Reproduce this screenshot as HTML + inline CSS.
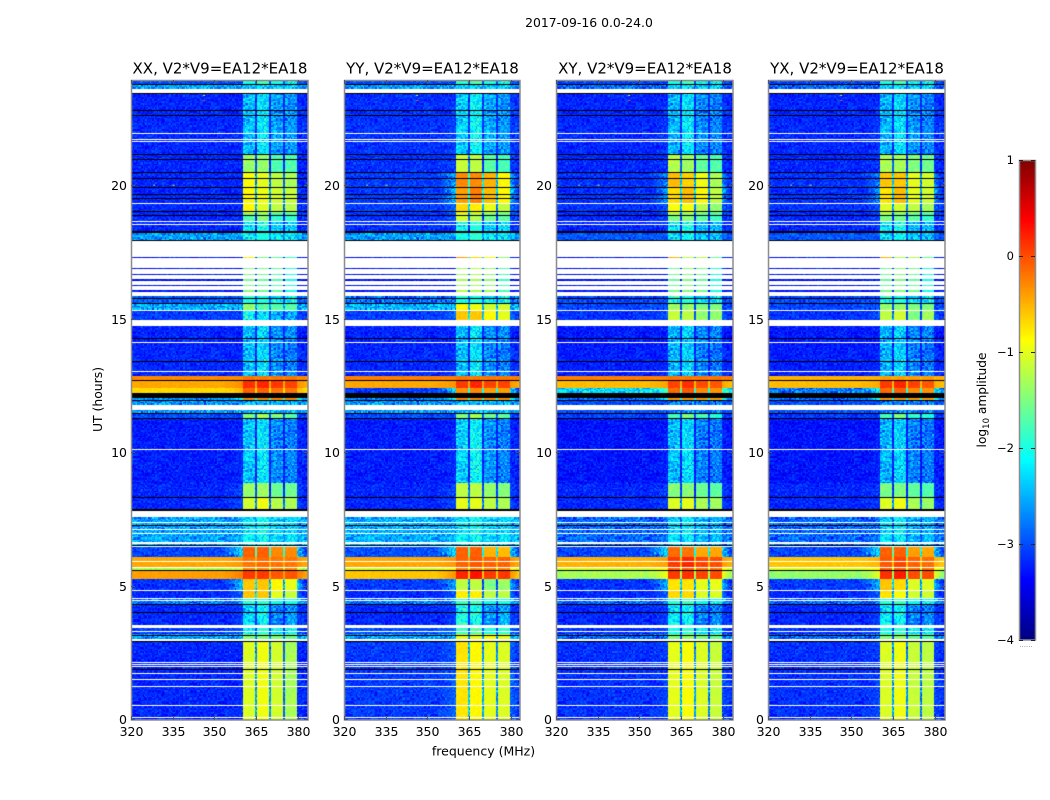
<!DOCTYPE html>
<html lang="en">
<head>
<meta charset="utf-8">
<title>2017-09-16 0.0-24.0 dynamic spectra</title>
<style>
html,body{margin:0;padding:0;background:#fff;}
#figure{position:relative;width:1050px;height:800px;overflow:hidden;background:#fff;font-family:"DejaVu Sans","Liberation Sans",sans-serif;}
canvas{position:absolute;display:block;}
#overlay{position:absolute;left:0;top:0;}
text{font-family:"DejaVu Sans","Liberation Sans",sans-serif;fill:#000;}
</style>
</head>
<body>
<div id="figure">
  <canvas id="heat0" width="177" height="640" style="left:131px;top:80px"></canvas>
  <canvas id="heat1" width="176" height="640" style="left:344px;top:80px"></canvas>
  <canvas id="heat2" width="177" height="640" style="left:556px;top:80px"></canvas>
  <canvas id="heat3" width="177" height="640" style="left:768px;top:80px"></canvas>
  <canvas id="cbar" width="16" height="480" style="left:1019px;top:160px"></canvas>
  <svg id="overlay" width="1050" height="800" viewBox="0 0 1050 800" xmlns="http://www.w3.org/2000/svg">
    <text x="589" y="27" text-anchor="middle" font-size="12.4">2017-09-16 0.0-24.0</text>
    <text x="483.5" y="755.5" text-anchor="middle" font-size="12.5">frequency (MHz)</text>
    <text transform="translate(102,399.5) rotate(-90)" text-anchor="middle" font-size="12.4">UT (hours)</text>
    <text transform="translate(986,400) rotate(-90)" text-anchor="middle" font-size="12.2">log<tspan font-size="8.5" dy="3">10</tspan><tspan dy="-3"> amplitude</tspan></text>
    <text x="1026" y="647" text-anchor="middle" font-size="7" style="fill:#888">......</text>
  </svg>
</div>
<script>
// Chart data.
const panelTitles = ["XX, V2*V9=EA12*EA18", "YY, V2*V9=EA12*EA18", "XY, V2*V9=EA12*EA18", "YX, V2*V9=EA12*EA18"];
const freqTicks = [320, 335, 350, 365, 380];
const utTicks = [0, 5, 10, 15, 20];
const cbarTicks = [1, 0, -1, -2, -3, -4];
const cbarLimits = [-4, 1];
const freqLimits = [320, 383.8];
const utLimits = [0, 23.95];
// Sub-band edges in MHz: start and stop of each of the four bright bands
const bandStartMHz = [360.5, 365.5, 370.4, 375.6];
const bandStopMHz = [364.8, 369.8, 374.9, 379.7];
const wingStartMHz = 353;
// Lower UT edge of each time region
const regionStartUT = [0, 2.94, 3.2, 3.54, 4.33, 4.51, 4.85, 5.28, 5.56, 5.71, 6.07, 6.46, 7.81, 8.29, 8.86, 11.29, 11.44, 11.93, 12.21, 12.42, 12.68, 12.88, 14.96, 15.30, 15.56, 15.86, 17.28, 17.92, 18.22, 18.63, 18.97, 19.31, 19.91, 20.47, 21.14, 23.61, 23.76];
// Each row: log10 amplitude of [background, wing near the band, band 1, band 2, band 3, band 4]
const levelsXX = [
[-3.2,-3.2,-1.05,-0.95,-1.1,-1.3],[-2.6,-2.5,-1.5,-1.5,-1.5,-1.6],[-3.1,-3.0,-2.1,-1.9,-2.2,-2.1],[-3.2,-3.1,-2.35,-2.15,-2.75,-2.65],
[-2.8,-2.6,-1.9,-1.9,-2.0,-2.0],[-3.2,-2.9,-0.6,-0.6,-1.0,-1.15],[-3.15,-2.3,-0.6,-0.6,-0.85,-1.0],[-0.4,-0.2,0.1,0.1,-0.05,-0.05],
[-1.3,-1.1,-0.3,-0.3,-0.3,-0.3],[-0.45,-0.35,-0.2,-0.15,-0.2,-0.2],[-3.05,-2.2,-0.1,-0.1,-0.3,-0.3],[-2.6,-2.6,-2.2,-2.1,-2.3,-2.3],
[-3.2,-3.0,-1.1,-0.95,-1.25,-1.3],[-3.2,-3.0,-1.4,-1.35,-1.6,-1.6],[-3.25,-3.2,-2.4,-2.25,-2.7,-2.75],[-3.0,-3.0,-1.5,-1.3,-1.5,-1.7],
[-2.65,-2.65,-2.5,-2.4,-2.5,-2.5],[-2.7,-2.0,-0.3,-0.3,-0.3,-0.3],[-0.7,-0.5,-0.1,-0.1,-0.2,-0.2],[-0.45,-0.3,0.15,0.2,0.1,0.05],
[-0.3,-0.3,-0.2,-0.2,-0.2,-0.2],[-3.2,-3.2,-2.45,-2.3,-2.7,-2.75],[-3.1,-3.1,-2.1,-2.25,-2.5,-2.5],[-2.55,-2.55,-1.4,-1.7,-1.7,-1.7],
[-2.95,-2.95,-2.0,-2.0,-2.2,-2.2],[-3.3,-3.3,-1.5,-1.6,-1.7,-2.0],[-3.3,-3.3,-0.8,-1.6,-1.6,-1.9],[-2.6,-2.6,-2.1,-2.0,-2.2,-2.2],
[-3.2,-3.2,-2.2,-2.1,-2.4,-2.4],[-3.2,-3.2,-1.7,-1.5,-1.9,-1.9],[-3.2,-3.2,-0.85,-1.05,-1.2,-1.25],[-3.2,-3.2,-0.85,-0.95,-1.1,-1.15],
[-3.2,-3.2,-0.9,-1.0,-1.2,-1.3],[-3.2,-3.2,-1.4,-1.4,-1.75,-1.75],[-3.2,-3.2,-2.45,-2.25,-2.6,-2.65],[-2.55,-2.5,-2.4,-2.3,-2.4,-2.4],
[-3.0,-3.0,-2.0,-1.8,-2.0,-2.2]];
const levelsYY = [
[-3.1,-2.9,-0.75,-0.85,-1.0,-1.05],[-2.6,-2.4,-1.0,-1.0,-0.9,-1.0],[-3.0,-2.9,-1.8,-1.7,-2.0,-1.9],[-3.2,-3.1,-2.05,-2.05,-2.65,-2.55],
[-2.8,-2.6,-1.8,-1.8,-2.0,-2.0],[-3.2,-2.9,-0.8,-0.8,-1.2,-1.2],[-3.1,-2.5,-1.2,-1.2,-1.5,-1.4],[-0.6,-0.3,0.2,0.3,0.1,0.1],
[-1.1,-0.8,-0.3,-0.3,-0.3,-0.3],[-0.45,-0.35,-0.1,-0.05,-0.1,-0.1],[-3.0,-2.2,-0.1,-0.1,-0.5,-0.55],[-2.55,-2.55,-2.2,-2.1,-2.3,-2.3],
[-3.2,-3.0,-1.0,-1.0,-1.2,-1.3],[-3.2,-3.0,-1.2,-1.2,-1.4,-1.5],[-3.25,-3.2,-2.35,-2.15,-2.65,-2.75],[-3.0,-3.0,-1.5,-1.3,-1.6,-1.7],
[-2.65,-2.65,-2.5,-2.4,-2.5,-2.5],[-2.8,-2.0,-0.3,-0.3,-0.3,-0.3],[-3.1,-2.1,-0.35,-0.3,-0.4,-0.4],[-0.45,-0.35,0.1,0.2,0.05,0.05],
[-0.25,-0.25,-0.2,-0.2,-0.2,-0.2],[-3.2,-3.15,-2.45,-2.25,-2.7,-2.75],[-3.1,-2.9,-0.6,-0.6,-0.85,-1.0],[-2.5,-2.5,-0.85,-0.95,-1.1,-1.1],
[-2.9,-2.9,-2.0,-2.0,-2.2,-2.2],[-3.3,-3.3,-1.3,-1.3,-1.4,-1.8],[-3.3,-3.3,-0.4,-0.7,-0.9,-1.5],[-2.6,-2.6,-2.0,-1.9,-2.2,-2.2],
[-3.15,-3.1,-2.1,-2.0,-2.4,-2.3],[-3.15,-3.0,-1.1,-1.3,-1.6,-1.7],[-3.1,-2.9,-0.7,-0.8,-1.0,-1.2],[-3.1,-2.5,-0.4,-0.25,-0.55,-0.85],
[-3.1,-2.55,-0.3,-0.3,-0.5,-0.85],[-3.15,-3.05,-1.15,-1.2,-1.7,-1.8],[-3.15,-3.1,-2.35,-2.15,-2.55,-2.65],[-2.6,-2.5,-2.3,-2.3,-2.4,-2.4],
[-3.0,-3.0,-1.9,-1.7,-2.0,-2.1]];
const levelsXY = [
[-3.15,-3.05,-1.0,-0.9,-1.05,-1.15],[-2.9,-2.7,-1.5,-1.4,-1.5,-1.6],[-3.15,-3.05,-2.0,-1.9,-2.2,-2.2],[-3.2,-3.1,-2.25,-2.15,-2.75,-2.75],
[-2.9,-2.7,-1.9,-1.8,-2.0,-2.1],[-3.2,-2.9,-0.7,-0.7,-1.05,-1.05],[-3.15,-2.4,-0.75,-0.75,-1.0,-1.0],[-1.3,-0.9,0.1,0.15,0.05,0.0],
[-1.1,-0.8,-0.1,-0.1,-0.2,-0.2],[-0.5,-0.4,0.1,0.2,0.05,0.0],[-3.05,-2.2,-0.15,-0.2,-0.45,-0.45],[-2.9,-2.9,-2.3,-2.2,-2.45,-2.5],
[-3.2,-3.05,-1.05,-1.0,-1.3,-1.35],[-3.2,-3.05,-1.5,-1.45,-1.6,-1.7],[-3.3,-3.25,-2.45,-2.3,-2.75,-2.8],[-3.05,-3.0,-1.8,-1.5,-1.8,-2.0],
[-3.0,-3.0,-2.8,-2.7,-2.8,-2.8],[-2.9,-1.9,-0.4,-0.35,-0.4,-0.4],[-2.3,-1.7,-0.15,-0.05,-0.3,-0.35],[-0.55,-0.4,0.05,0.15,0.0,-0.05],
[-0.25,-0.25,-0.2,-0.2,-0.2,-0.2],[-3.25,-3.2,-2.5,-2.35,-2.75,-2.8],[-3.15,-3.0,-1.15,-1.2,-1.4,-1.4],[-3.05,-3.0,-1.35,-1.4,-1.5,-1.5],
[-3.05,-3.05,-2.05,-2.0,-2.3,-2.3],[-3.3,-3.3,-1.6,-1.5,-1.6,-2.0],[-3.3,-3.3,-0.5,-1.2,-1.2,-1.7],[-2.95,-2.95,-2.2,-2.1,-2.4,-2.4],
[-3.2,-3.1,-2.2,-2.1,-2.5,-2.5],[-3.2,-3.1,-1.5,-1.5,-1.7,-1.85],[-3.15,-3.0,-0.9,-0.95,-1.25,-1.45],[-3.15,-2.65,-0.7,-0.55,-0.85,-1.2],
[-3.15,-2.7,-0.55,-0.65,-0.95,-1.3],[-3.2,-3.1,-1.25,-1.35,-1.65,-1.75],[-3.2,-3.15,-2.5,-2.25,-2.7,-2.75],[-2.85,-2.85,-2.3,-2.2,-2.4,-2.4],
[-3.05,-3.05,-2.0,-1.8,-2.1,-2.2]];
const levelsYX = [
[-3.15,-3.05,-1.05,-0.95,-1.15,-1.2],[-2.9,-2.7,-1.5,-1.4,-1.6,-1.7],[-3.15,-3.05,-2.0,-1.9,-2.2,-2.2],[-3.2,-3.1,-2.25,-2.15,-2.75,-2.75],
[-2.9,-2.7,-1.9,-1.8,-2.0,-2.1],[-3.2,-2.9,-0.75,-0.9,-1.1,-1.1],[-3.1,-2.4,-0.6,-0.7,-1.05,-1.05],[-1.4,-0.95,0.15,0.25,0.0,0.0],
[-1.05,-0.8,-0.1,-0.1,-0.2,-0.2],[-0.6,-0.5,-0.05,0.05,-0.1,-0.15],[-3.05,-2.2,-0.1,-0.1,-0.4,-0.45],[-2.9,-2.9,-2.3,-2.2,-2.5,-2.5],
[-3.2,-3.1,-1.05,-0.95,-1.3,-1.4],[-3.2,-3.1,-1.55,-1.5,-1.65,-1.75],[-3.3,-3.25,-2.5,-2.35,-2.75,-2.8],[-3.1,-3.0,-1.8,-1.5,-1.9,-2.0],
[-3.0,-3.0,-2.8,-2.7,-2.8,-2.8],[-2.9,-1.9,-0.4,-0.35,-0.4,-0.4],[-2.8,-2.0,-0.15,-0.1,-0.3,-0.35],[-0.55,-0.45,0.1,0.2,0.05,-0.05],
[-0.5,-0.5,-0.4,-0.4,-0.4,-0.4],[-3.25,-3.2,-2.5,-2.35,-2.75,-2.8],[-3.15,-3.0,-1.2,-1.1,-1.5,-1.3],[-3.05,-3.0,-1.4,-1.4,-1.5,-1.5],
[-3.05,-3.05,-2.05,-2.0,-2.3,-2.3],[-3.3,-3.3,-1.6,-1.5,-1.6,-2.0],[-3.3,-3.3,-0.5,-1.3,-1.2,-1.7],[-2.95,-2.95,-2.2,-2.1,-2.4,-2.4],
[-3.2,-3.1,-2.2,-2.1,-2.5,-2.5],[-3.2,-3.1,-1.5,-1.6,-1.7,-1.9],[-3.15,-3.0,-1.05,-1.1,-1.2,-1.35],[-3.15,-2.7,-0.75,-0.55,-1.0,-1.1],
[-3.15,-2.75,-0.6,-0.6,-1.0,-1.1],[-3.2,-3.1,-1.3,-1.3,-1.5,-1.6],[-3.2,-3.15,-2.5,-2.3,-2.65,-2.75],[-2.85,-2.85,-2.3,-2.2,-2.4,-2.4],
[-3.05,-3.05,-2.0,-1.8,-2.1,-2.2]];
// Flagged times (UT hours): thin lines one sample wide and wider spans
const blackLinesUT = [23.78, 23.45, 22.81, 22.62, 21.16, 20.97, 20.49, 20.26, 19.93, 19.66, 19.51, 19.03, 18.88, 17.94, 15.77, 15.58, 14.27, 13.41, 12.70, 11.95, 11.46, 11.27, 8.31, 7.27, 6.52, 5.58, 4.31, 4.01, 3.15, 2.92, 1.87];
const blackSpansUT = [[18.22, 18.30], [12.04, 12.21], [7.81, 7.89]];
const whiteLinesUT = [21.95, 21.72, 21.65, 19.33, 18.65, 18.54, 15.32, 14.12, 13.03, 10.11, 7.60, 7.38, 7.12, 6.97, 6.48, 5.92, 5.69, 4.83, 4.53, 4.46, 3.30, 1.72, 1.50, 1.24, 0.52, 0.07];
const whiteSpansUT = [[23.46, 23.61], [17.32, 17.92], [16.91, 17.28], [16.69, 16.87], [16.50, 16.65], [16.27, 16.42], [16.09, 16.24], [15.86, 16.01], [14.74, 14.96], [11.59, 11.78], [7.62, 7.81], [6.57, 6.65], [3.43, 3.54], [2.94, 3.01], [2.10, 2.15], [2.03, 2.07], [1.97, 2.01]];
// Isolated interference spots
const spotFreqMHz = [346, 346, 328, 335];
const spotUT = [23.2, 23.39, 20.03, 20.03];
const spotLevel = [-0.1, -1.0, -1.5, -1.2];
// Hand-typed per-cell scatter around the region level (log10 units)
const speckleTable = [0.12,-0.28,0.05,0.31,-0.14,-0.33,0.22,0.02,-0.19,0.27,-0.07,0.16,-0.30,0.09,0.34,-0.22,-0.02,0.19,-0.35,0.25,
-0.11,0.07,0.29,-0.26,0.14,-0.04,-0.31,0.21,0.33,-0.16,0.03,-0.24,0.11,0.28,-0.09,-0.34,0.17,0.06,-0.21,0.32,
-0.13,0.24,-0.01,-0.29,0.15,0.30,-0.18,0.08,-0.27,0.20,0.35,-0.06,-0.23,0.13,-0.32,0.26,0.01,-0.17,0.10,-0.25,0.18];

const panelLevels = [levelsXX, levelsYY, levelsXY, levelsYX];
const panelLeft = [131, 344, 556, 768];
const panelRight = [308, 520, 733, 945];
const plotTop = 80;
const plotBottom = 720;
const pxPerMHz = 2.775;
const pxPerHour = 26.7;
const utZeroY = 719.5;
const channelPx = 1.4;
const samplePx = 1.34;

function xScale(panel, mhz) { return panelLeft[panel] + (mhz - freqLimits[0]) * pxPerMHz; }
function yScale(ut) { return utZeroY - (ut - utLimits[0]) * pxPerHour; }
function cbarScale(v) { return 640 - (v - cbarLimits[0]) / (cbarLimits[1] - cbarLimits[0]) * 480; }

function clamp01(v) { return Math.max(0, Math.min(1, v)); }
function jet(t) {
  return [
    Math.round(255 * clamp01(Math.min(4 * t - 1.5, -4 * t + 4.5))),
    Math.round(255 * clamp01(Math.min(4 * t - 0.5, -4 * t + 3.5))),
    Math.round(255 * clamp01(Math.min(4 * t + 0.5, -4 * t + 2.5)))
  ];
}
function levelColor(v) { return jet(clamp01((v - cbarLimits[0]) / (cbarLimits[1] - cbarLimits[0]))); }

function regionIndex(ut) {
  let idx = 0;
  for (let i = 0; i < regionStartUT.length; i++) { if (ut >= regionStartUT[i]) idx = i; }
  return idx;
}
function flagAt(ut) {
  for (const s of whiteSpansUT) { if (ut >= s[0] && ut <= s[1]) return 'white'; }
  for (const s of blackSpansUT) { if (ut >= s[0] && ut <= s[1]) return 'black'; }
  for (const c of whiteLinesUT) { if (Math.abs(ut - c) < 0.0195) return 'white'; }
  for (const c of blackLinesUT) { if (Math.abs(ut - c) < 0.0195) return 'black'; }
  return null;
}
function levelAt(row, mhz) {
  const bg = row[0];
  const wing = row[1];
  for (let b = 0; b < 4; b++) {
    if (mhz >= bandStartMHz[b] && mhz <= bandStopMHz[b]) return row[2 + b];
  }
  if (mhz < bandStartMHz[0]) {
    if (mhz < wingStartMHz) return bg;
    return bg + (wing - bg) * Math.pow((mhz - wingStartMHz) / (bandStartMHz[0] - wingStartMHz), 1.5);
  }
  if (mhz > bandStopMHz[3]) {
    return wing + (bg - wing) * clamp01((mhz - bandStopMHz[3]) / 3);
  }
  for (let b = 0; b < 3; b++) {
    if (mhz > bandStopMHz[b] && mhz < bandStartMHz[b + 1]) {
      return Math.max(bg, Math.min(row[2 + b], row[3 + b]) - 1.6);
    }
  }
  return bg;
}

function drawPanel(panel) {
  const canvas = document.getElementById('heat' + panel);
  const ctx = canvas.getContext('2d');
  const w = canvas.width, h = canvas.height;
  const img = ctx.createImageData(w, h);
  const levels = panelLevels[panel];
  const n = speckleTable.length;
  for (let r = 0; r < h; r++) {
    const ut = (utZeroY - (plotTop + r + 0.5)) / pxPerHour;
    const flag = flagAt(ut);
    const row = levels[regionIndex(ut)];
    const sampleRow = Math.floor(r / samplePx);
    for (let c = 0; c < w; c++) {
      const i = (r * w + c) * 4;
      let color;
      if (flag === 'white') color = [255, 255, 255];
      else if (flag === 'black') color = [0, 0, 0];
      else {
        const mhz = freqLimits[0] + (c + 0.5) / pxPerMHz;
        const col = Math.floor(c / channelPx);
        const lvl = levelAt(row, mhz);
        const s = 0.75 * (speckleTable[(col * col * 7 + sampleRow * 13 + col) % n] + speckleTable[(sampleRow * sampleRow * 5 + col * 23 + sampleRow) % n]);
        const amp = lvl < -2.9 ? 0.6 : (lvl < -2 ? 1.1 : (lvl < -1.2 ? 0.45 : 0.14));
        color = levelColor(lvl + s * amp);
      }
      img.data[i] = color[0];
      img.data[i + 1] = color[1];
      img.data[i + 2] = color[2];
      img.data[i + 3] = 255;
    }
  }
  ctx.putImageData(img, 0, 0);
  for (let k = 0; k < spotFreqMHz.length; k++) {
    const col = levelColor(spotLevel[k]);
    ctx.fillStyle = 'rgb(' + col.join(',') + ')';
    ctx.fillRect(xScale(panel, spotFreqMHz[k]) - panelLeft[panel], yScale(spotUT[k]) - plotTop, 2, 1);
  }
}

function drawColorbar() {
  const canvas = document.getElementById('cbar');
  const ctx = canvas.getContext('2d');
  for (let r = 0; r < canvas.height; r++) {
    const v = cbarLimits[1] - (r + 0.5) / canvas.height * (cbarLimits[1] - cbarLimits[0]);
    ctx.fillStyle = 'rgb(' + levelColor(v).join(',') + ')';
    ctx.fillRect(0, r, canvas.width, 1);
  }
}

const svg = document.getElementById('overlay');
const NS = 'http://www.w3.org/2000/svg';
function makeLine(x1, y1, x2, y2, stroke) {
  const l = document.createElementNS(NS, 'line');
  l.setAttribute('x1', x1);
  l.setAttribute('y1', y1);
  l.setAttribute('x2', x2);
  l.setAttribute('y2', y2);
  l.setAttribute('stroke', stroke);
  l.setAttribute('stroke-width', '1');
  svg.appendChild(l);
  return l;
}
function makeText(x, y, str, size, anchor) {
  const t = document.createElementNS(NS, 'text');
  t.setAttribute('x', x);
  t.setAttribute('y', y);
  t.setAttribute('font-size', size);
  t.setAttribute('text-anchor', anchor);
  t.textContent = str;
  svg.appendChild(t);
  return t;
}

function drawAxes(panel) {
  const left = panelLeft[panel], right = panelRight[panel];
  const frame = document.createElementNS(NS, 'rect');
  frame.setAttribute('x', left + 0.5);
  frame.setAttribute('y', plotTop + 0.5);
  frame.setAttribute('width', right - left - 0.5);
  frame.setAttribute('height', plotBottom - plotTop - 0.5);
  frame.setAttribute('fill', 'none');
  frame.setAttribute('stroke', '#8c8c8c');
  frame.setAttribute('stroke-width', '1.5');
  
  
  svg.appendChild(frame);

  const title = makeText((left + right) / 2 + 0.5, 73.5, panelTitles[panel], 15, 'middle');
  
  

  freqTicks.forEach(function (f) {
    const x = Math.round(xScale(panel, f)) + 0.5;
    const tb = makeLine(x, plotBottom, x, plotBottom - 4, '#555');
    
    
    const tt = makeLine(x, plotTop, x, plotTop + 4, '#555');
    
    
    const lab = makeText(x, 736, String(f), 12.5, 'middle');
    
    
  });
  utTicks.forEach(function (u) {
    const y = Math.round(yScale(u) - 0.5) + 0.5;
    const tl = makeLine(left, y, left + 4, y, '#555');
    
    
    const tr = makeLine(right, y, right - 4, y, '#555');
    
    
    const lab = makeText(left - 4, y + 4.5, String(u), 12.5, 'end');
    
    
  });
}

function drawColorbarAxis() {
  const frame = document.createElementNS(NS, 'rect');
  frame.setAttribute('x', 1019.5);
  frame.setAttribute('y', 160.5);
  frame.setAttribute('width', 16);
  frame.setAttribute('height', 479.5);
  frame.setAttribute('fill', 'none');
  frame.setAttribute('stroke', '#8c8c8c');
  frame.setAttribute('stroke-width', '1.5');
  
  
  svg.appendChild(frame);
  cbarTicks.forEach(function (v) {
    const y = Math.round(cbarScale(v)) + 0.5;
    const a = makeLine(1019, y, 1023, y, '#222');
    
    
    const b = makeLine(1035, y, 1031, y, '#222');
    
    
    const label = (v < 0 ? '\u2212' : '') + Math.abs(v);
    const t = makeText(1014, y + 3.5, label, 11.5, 'end');
    
    
  });
}

for (let p = 0; p < 4; p++) {
  drawPanel(p);
  drawAxes(p);
}
drawColorbar();
drawColorbarAxis();
</script>
</body>
</html>
